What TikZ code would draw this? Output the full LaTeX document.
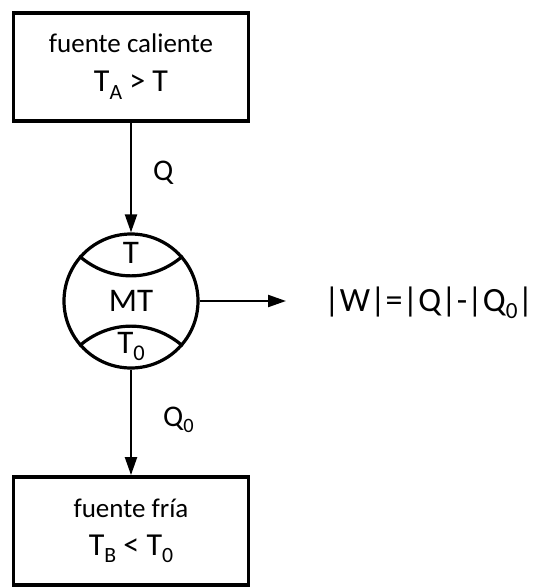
\documentclass[tikz,border=0pt]{standalone}
\usepackage{fontspec}
\setmainfont{Carlito}
\usepackage{graphicx}
\usetikzlibrary{arrows.meta}

% lowered, smaller index in text font
\newcommand{\lowsub}[1]{\raisebox{-0.22em}{\scalebox{0.68}{#1}}}

\begin{document}
\begin{tikzpicture}[x=1pt, y=-1pt, >={Triangle[length=18pt,width=12pt]},
  reservoir/.style={draw, line width=3.8pt, minimum width=235pt, minimum height=108pt, inner sep=0pt},
  engine/.style={draw, circle, line width=3.2pt, minimum size=134pt, inner sep=0pt},
  flow/.style={->, line width=2.2pt},
  lbl/.style={anchor=base, inner sep=0pt},
  small/.style={font=\fontsize{27}{27}\selectfont},
  big/.style={font=\fontsize{32}{32}\selectfont}]
  \useasboundingbox (0,0) rectangle (534,588);

  % hot source
  \node[reservoir] (hot) at (131,67) {};
  \node[lbl, small] (hotname) at (131,53) {fuente caliente};
  \node[lbl, big] (hottemp) at (131,92) {T\lowsub{A} > T};

  % cold source
  \node[reservoir] (cold) at (131,531) {};
  \node[lbl, small] (coldname) at (131,517) {fuente fría};
  \node[lbl, big] (coldtemp) at (131,555) {T\lowsub{B} < T\lowsub{0}};

  % the engine
  \node[engine] (mt) at (131,301) {};
  \draw[line width=3.2pt] (mt.139) to[bend right=41] (mt.41);
  \draw[line width=3.2pt] (mt.221) to[bend left=41] (mt.319);
  \node[lbl, font=\fontsize{33}{33}\selectfont] (thot) at (131,263) {T};
  \node[lbl, font=\fontsize{33}{33}\selectfont] (mtname) at (131,311) {MT};
  \node[lbl, font=\fontsize{33}{33}\selectfont] (tcold) at (131,353) {T\lowsub{0}};

  % heat in, heat out, work
  \coordinate (wout) at (286,301);
  \draw[flow] (hot) -- (mt);
  \draw[flow] (mt) -- (cold);
  \draw[flow] (mt) -- (wout);
  \node[lbl, anchor=base west, font=\fontsize{30}{30}\selectfont] (qin) at (153,180) {Q};
  \node[lbl, anchor=base west, font=\fontsize{30}{30}\selectfont] (qout) at (163,426) {Q\lowsub{0}};
  \node[lbl, anchor=base west, font=\fontsize{34}{34}\selectfont] (work) at (324,311) {|W|=|Q|-|Q\lowsub{0}|};
\end{tikzpicture}
\end{document}
